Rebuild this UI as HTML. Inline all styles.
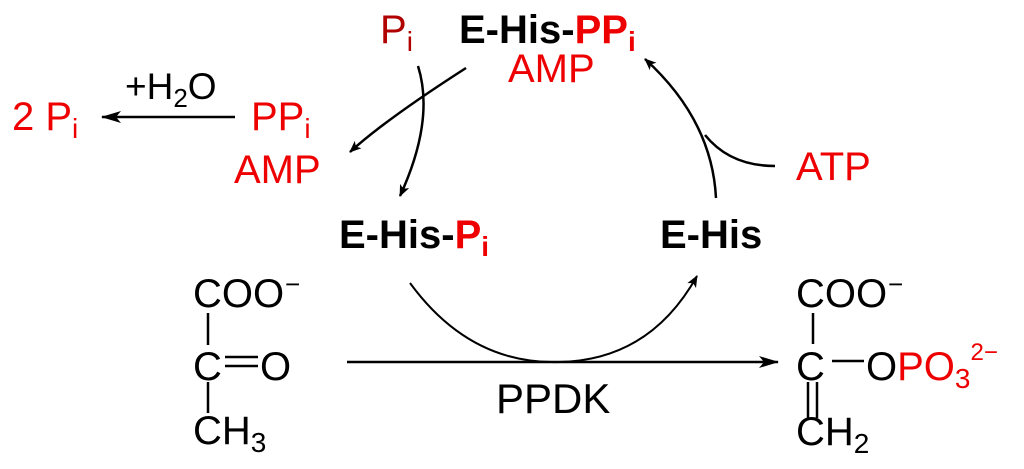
<!DOCTYPE html>
<html><head><meta charset="utf-8"><style>
html,body{margin:0;padding:0;background:#fff;width:1024px;height:469px;overflow:hidden}
svg text{font-family:"Liberation Sans",Arial,sans-serif}
</style></head><body>
<svg width="1024" height="469" viewBox="0 0 1024 469" xmlns="http://www.w3.org/2000/svg">
<defs>
<marker id="a" viewBox="0 0 12 10" refX="11" refY="5" markerWidth="12" markerHeight="10" markerUnits="userSpaceOnUse" orient="auto">
<path d="M0,0 L12,5 L0,10 L3,5 Z" fill="#000"/></marker>
<marker id="b" viewBox="0 0 20 12" refX="19" refY="6" markerWidth="20" markerHeight="12" markerUnits="userSpaceOnUse" orient="auto">
<path d="M0,0 L20,6 L0,12 L5,6 Z" fill="#000"/></marker>
</defs>
<g font-size="40">
<text x="380" y="43" fill="#b00000">P<tspan font-size="28" dy="8">i</tspan></text>
<text x="459" y="43" font-weight="bold">E-His-<tspan fill="#e00">PP</tspan><tspan fill="#e00" font-size="28" dy="8">i</tspan></text>
<text x="508" y="82" fill="#e00">AMP</text>
<text x="125" y="99" font-size="37">+H<tspan font-size="26" dy="8">2</tspan><tspan dy="-8">O</tspan></text>
<text x="12" y="130" fill="#e00">2 P<tspan font-size="28" dy="8">i</tspan></text>
<text x="251" y="130" fill="#e00">PP<tspan font-size="28" dy="8">i</tspan></text>
<text x="234" y="183" fill="#e00">AMP</text>
<text x="796" y="180" fill="#e00">ATP</text>
<text x="339" y="248" font-weight="bold">E-His-<tspan fill="#e00">P</tspan><tspan fill="#e00" font-size="28" dy="8">i</tspan></text>
<text x="660" y="248" font-weight="bold">E-His</text>
</g>
<g fill="none" stroke="#000" stroke-width="2.5">
<line x1="235" y1="117" x2="102" y2="117" marker-end="url(#b)"/>
<path d="M466,68 Q385,120 350,152" marker-end="url(#a)"/>
<path d="M418,66 Q435,120 400,196" marker-end="url(#a)"/>
<path d="M716,198 Q712,120 645,59" marker-end="url(#a)"/>
<path d="M775,166 Q730,166 705,135"/>
<path d="M410,283 Q470,365 560,362 Q650,360 697,276" stroke-width="2" marker-end="url(#a)"/>
<line x1="347" y1="362" x2="778" y2="362" marker-end="url(#b)"/>
<line x1="208" y1="313" x2="208" y2="345"/>
<line x1="208" y1="382" x2="208" y2="413"/>
<line x1="225" y1="357" x2="258" y2="357"/>
<line x1="225" y1="366" x2="258" y2="366"/>
<line x1="813" y1="313" x2="813" y2="344"/>
<line x1="808" y1="382" x2="808" y2="418"/>
<line x1="817" y1="382" x2="817" y2="418"/>
<line x1="832" y1="361" x2="864" y2="361"/>
</g>
<g font-size="40">
<text x="193" y="307">COO</text><text x="285" y="293" font-size="26">−</text>
<text x="193" y="380">C</text><text x="260" y="380">O</text>
<text x="193" y="444">CH<tspan font-size="28" dy="8">3</tspan></text>
<text x="496" y="413" font-size="42">PPDK</text>
<text x="796" y="307">COO</text><text x="888" y="293" font-size="26">−</text>
<text x="796" y="380">C</text>
<text x="866" y="380">O<tspan fill="#e00">PO</tspan><tspan fill="#e00" font-size="28" dy="8">3</tspan><tspan fill="#e00" font-size="24" dy="-28">2−</tspan></text>
<text x="796" y="445">CH<tspan font-size="28" dy="8">2</tspan></text>
</g>
</svg>
</body></html>
